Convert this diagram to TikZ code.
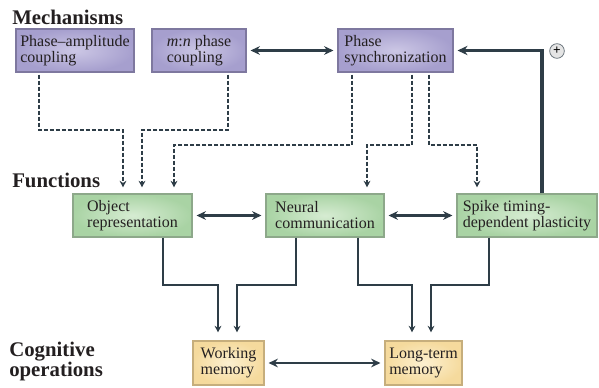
\documentclass[tikz,border=0pt]{standalone}
\usepackage{fontspec}
\setmainfont{Liberation Serif}
\usetikzlibrary{calc}
\usetikzlibrary{arrows.meta}
\usepackage{xcolor}
\definecolor{linkcol}{HTML}{2E3D47}
\definecolor{textcol}{HTML}{231F20}
\definecolor{mechin}{HTML}{CCC7E5}
\definecolor{mechout}{HTML}{A69FCE}
\definecolor{mechline}{HTML}{7E789F}
\definecolor{funcin}{HTML}{D6ECD2}
\definecolor{funcout}{HTML}{A9D3A4}
\definecolor{funcline}{HTML}{8DA88A}
\definecolor{cognin}{HTML}{FCF0D0}
\definecolor{cognout}{HTML}{F5DA9D}
\definecolor{cognline}{HTML}{C6AE7C}
\newcommand\tightlines{\lineskiplimit=-10pt\relax}

\begin{document}
\begin{tikzpicture}[x=0.75pt, y=-0.75pt,
			box/.style = {draw, line width=0.8pt, minimum height=32.25pt, inner sep=2pt, align=left, text=textcol, font=\fontsize{12}{12}\selectfont\tightlines},
			mech/.style = {box, draw=mechline, inner color=mechin, outer color=mechout},
			func/.style = {box, draw=funcline, inner color=funcin, outer color=funcout},
			cogn/.style = {box, draw=cognline, inner color=cognin, outer color=cognout, minimum height=33pt},
			head/.style = {anchor=base west, inner sep=0pt, align=left, text=textcol, font=\fontsize{15.6}{14.5}\selectfont\bfseries\tightlines},
			dashlink/.style = {draw=linkcol, line width=1.8pt, dash pattern=on 3pt off 1.5pt, -{Stealth[length=5pt, width=5pt]}, shorten <=1.5pt, shorten >=4.5pt},
			solidlink/.style = {draw=linkcol, line width=1.8pt, -{Stealth[length=5pt, width=5pt]}, shorten >=6pt},
			duallink/.style = {draw=linkcol, line width=2.2pt, {Stealth[length=7pt, width=6.5pt]}-{Stealth[length=7pt, width=6.5pt]}, shorten <=3pt, shorten >=3pt},
			feedlink/.style = {draw=linkcol, line width=2.6pt, -{Stealth[length=7.5pt, width=7pt]}, shorten >=3pt},
			gain/.style = {circle, draw=linkcol!70, fill=black!10, line width=0.6pt, minimum size=11pt, inner sep=0pt, font=\fontsize{10}{10}\selectfont\bfseries}
			]
			\useasboundingbox (0,0) rectangle (599,388);
			
			% level labels
			\node[head] (hmech) at (12,25) {Mechanisms};
			\node[head] (hfunc) at (12,188) {Functions};
			\node[head] (hcogn) at (9,376) {Cognitive\\operations};
			
			% mechanisms
			\node[mech, minimum width=88.5pt] (pac) at (75,50.5) {Phase--amplitude\\coupling};
			\node[mech, minimum width=70.5pt] (mn) at (199,50.5) {\textit{m}:\textit{n} phase\\coupling};
			\node[mech, minimum width=86.25pt] (psync) at (395.5,50.5) {Phase\\synchronization};
			
			% functions
			\node[func, minimum width=89.25pt] (obj) at (132.5,215.5) {Object\\representation};
			\node[func, minimum width=88.5pt] (neural) at (325,215.5) {Neural\\communication};
			\node[func, minimum width=105pt] (stdp) at (527,215.5) {Spike timing-\\dependent plasticity};
			
			% cognitive operations
			\node[cogn, minimum width=53.25pt] (wm) at (228.5,363) {Working\\memory};
			\node[cogn, minimum width=57.75pt] (ltm) at (423.5,363) {Long-term\\memory};
			
			% mechanisms -> functions
			\draw[dashlink] (pac.south -| 39,0) |- (123,130) -- (obj.north -| 123,0);
			\draw[dashlink] (mn.south -| 228,0) |- (142,130) -- (obj.north -| 142,0);
			\draw[dashlink] (psync.south -| 352,0) |- (174,145) -- (obj.north -| 174,0);
			\draw[dashlink] (psync.south -| 412,0) |- (367,145) -- (neural.north -| 367,0);
			\draw[dashlink] (psync.south -| 429,0) |- (477,145) -- (stdp.north -| 477,0);
			
			% functions -> cognitive operations
			\draw[solidlink] (obj.south -| 163,0) |- (218,285) -- (wm.north -| 218,0);
			\draw[solidlink] (neural.south -| 296,0) |- (237,285) -- (wm.north -| 237,0);
			\draw[solidlink] (neural.south -| 358,0) |- (412,285) -- (ltm.north -| 412,0);
			\draw[solidlink] (stdp.south -| 489,0) |- (431,285) -- (ltm.north -| 431,0);
			
			% two-way links
			\draw[duallink] (mn) -- (psync);
			\draw[duallink] (obj) -- (neural);
			\draw[duallink] (neural) -- (stdp);
			\draw[duallink] (wm) -- (ltm);
			
			% feedback
			\draw[feedlink] (stdp.north -| 542,0) |- (psync.east);
			\node[gain] (plus) at (557,51) {+};
		\end{tikzpicture}
\end{document}
